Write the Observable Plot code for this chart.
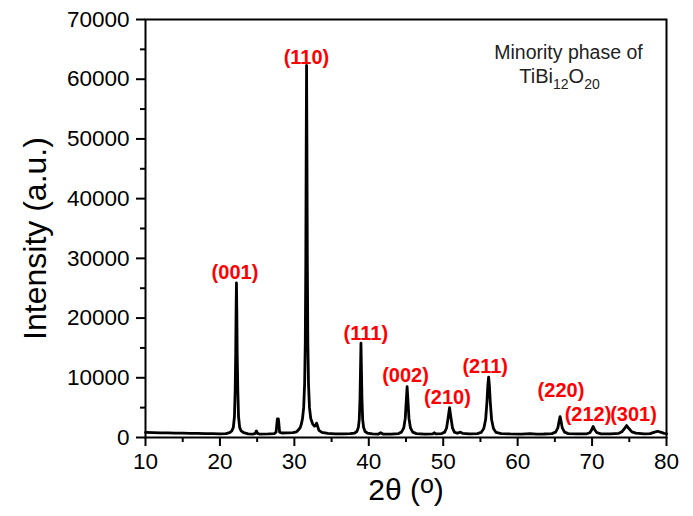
<!DOCTYPE html>
<html><head><meta charset="utf-8">
<script src="https://cdn.jsdelivr.net/npm/d3@7"></script>
<script src="https://cdn.jsdelivr.net/npm/@observablehq/plot@0.6"></script>
<style>body{margin:0;background:#fff}</style>
</head><body><div id="chart"></div>
<script>
const twoTheta = [10,11,12,13,14,15,16,17,18,19,20,20.8,21.3,21.6,21.8,21.95,22.05,22.12,22.17,22.22,22.27,22.32,22.4,22.5,22.65,22.85,23.2,23.8,24.5,24.75,24.9,25.05,25.3,26.5,27.3,27.55,27.65,27.72,27.85,27.92,28.02,28.3,29.0,29.8,30.3,30.6,30.8,30.95,31.1,31.25,31.38,31.47,31.54,31.59,31.64,31.69,31.74,31.81,31.9,32.03,32.2,32.45,32.7,32.85,32.98,33.1,33.3,33.7,34.5,35.5,36.5,37.5,38.1,38.4,38.6,38.72,38.82,38.89,38.95,39.01,39.08,39.18,39.3,39.5,39.8,40.5,41.3,41.6,41.9,43.0,44.0,44.4,44.7,44.9,45.03,45.15,45.27,45.4,45.6,45.9,46.4,47.5,48.6,48.8,49.0,49.8,50.2,50.45,50.65,50.85,51.05,51.25,51.5,51.9,52.3,52.6,53.5,54.6,55.1,55.45,55.7,55.88,56.0,56.1,56.2,56.32,56.5,56.75,57.1,57.8,59,60.5,61.7,62.5,63.5,64.6,65.1,65.4,65.58,65.7,65.82,66.0,66.3,66.8,68,69.3,69.7,69.95,70.15,70.35,70.65,71.2,72.5,73.6,74.0,74.35,74.65,74.95,75.35,75.9,77,77.8,78.3,78.8,79.3,79.7,80];
const intensity = [850,820,780,760,740,720,700,680,660,640,620,650,800,1100,1700,3500,8000,14000,21000,25900,21000,14000,8000,3500,1700,1100,800,620,580,700,1100,700,580,600,650,900,2300,3100,3100,2300,900,750,760,800,950,1350,1700,2300,3200,5000,9000,16000,30000,48000,62300,48000,30000,16000,9000,5000,3200,2300,1900,2000,2400,2000,1200,850,680,620,600,640,750,1000,1700,3000,6500,11500,15800,11500,6500,3000,1700,1000,750,600,580,800,580,560,650,900,1600,3200,6000,8500,6000,3200,1600,900,650,570,600,800,600,650,900,1600,3200,5000,3200,1600,900,700,900,700,620,650,850,1500,3000,6000,8800,10100,8800,6000,3000,1500,850,650,600,580,650,580,590,650,900,1600,2800,3500,2800,1600,900,650,600,620,800,1300,1850,1300,800,620,600,700,950,1500,2000,1500,950,720,600,650,850,1050,850,700,650];

const peakLabels = ["(001)","(110)","(111)","(002)","(210)","(211)","(220)","(212)","(301)"];
const labelTheta = [22.02,31.63,39.6,44.93,50.57,55.64,65.82,69.45,75.57];
const labelIntensity = [27550,63640,17420,10300,6615,11890,7870,3850,3850];

const xTicks = [10,20,30,40,50,60,70,80];
const xMinorTicks = [15,25,35,45,55,65,75];
const yTicks = [0,10000,20000,30000,40000,50000,60000,70000];
const yMinorTicks = [5000,15000,25000,35000,45000,55000,65000];

const pattern = twoTheta.map((t, i) => ({t, v: intensity[i]}));
const labels = peakLabels.map((s, i) => ({s, t: labelTheta[i], v: labelIntensity[i]}));

const plot = Plot.plot({
  width: 693, height: 516,
  marginLeft: 145, marginRight: 27, marginTop: 19, marginBottom: 79,
  style: {fontFamily: "'Liberation Sans', Arial, sans-serif", background: "white", color: "black"},
  x: {domain: [10, 80]},
  y: {domain: [0, 70000]},
  marks: [
    Plot.axisX(xTicks, {tickSize: 9, tickPadding: 7, fontSize: 22.5, label: null, strokeWidth: 2, tickFormat: d => String(d)}),
    Plot.axisX(xMinorTicks, {tickSize: 5, label: null, strokeWidth: 2, tickFormat: () => ""}),
    Plot.axisY(yTicks, {tickSize: 9, tickPadding: 7, fontSize: 22.5, label: null, strokeWidth: 2, tickFormat: d => String(d)}),
    Plot.axisY(yMinorTicks, {tickSize: 5, label: null, strokeWidth: 2, tickFormat: () => ""}),
    Plot.line(pattern, {x: "t", y: "v", stroke: "black", strokeWidth: 2.8}),
    Plot.frame({stroke: "black", strokeWidth: 2}),
    Plot.text(labels, {x: "t", y: "v", text: "s", fill: "#ff0000", fontWeight: "bold", fontSize: 20, lineAnchor: "middle"}),
    Plot.text(["Minority phase of"], {frameAnchor: "top-right", textAnchor: "middle", lineAnchor: "bottom", dx: -98, dy: 39, fontSize: 19.5, fill: "#222"}),
    Plot.text(["TiBi12O20"], {frameAnchor: "top-right", textAnchor: "middle", lineAnchor: "bottom", dx: -107, dy: 63, fontSize: 20, fill: "#222", className: "formula"}),
    Plot.text(["Intensity (a.u.)"], {frameAnchor: "left", textAnchor: "middle", lineAnchor: "middle", rotate: -90, dx: -110, dy: 10, fontSize: 32}),
    Plot.text(["2θ (°)"], {frameAnchor: "bottom", textAnchor: "middle", lineAnchor: "bottom", dy: 62, fontSize: 30, className: "xlabel"})
  ]
});

// rich text: subscripts and superscript
d3.select(plot).selectAll(".formula text").each(function() {
  const t = d3.select(this).text("");
  t.append("tspan").text("TiBi");
  t.append("tspan").attr("font-size", 14).attr("dy", 6).text("12");
  t.append("tspan").attr("font-size", 20).attr("dy", -6).text("O");
  t.append("tspan").attr("font-size", 14).attr("dy", 6).text("20");
});
d3.select(plot).selectAll(".xlabel text").each(function() {
  const t = d3.select(this).text("");
  t.append("tspan").text("2θ (");
  t.append("tspan").attr("font-size", 25).attr("dy", -7).text("o");
  t.append("tspan").attr("font-size", 30).attr("dy", 7).text(")");
});

document.getElementById("chart").appendChild(plot);
</script>
</body></html>
